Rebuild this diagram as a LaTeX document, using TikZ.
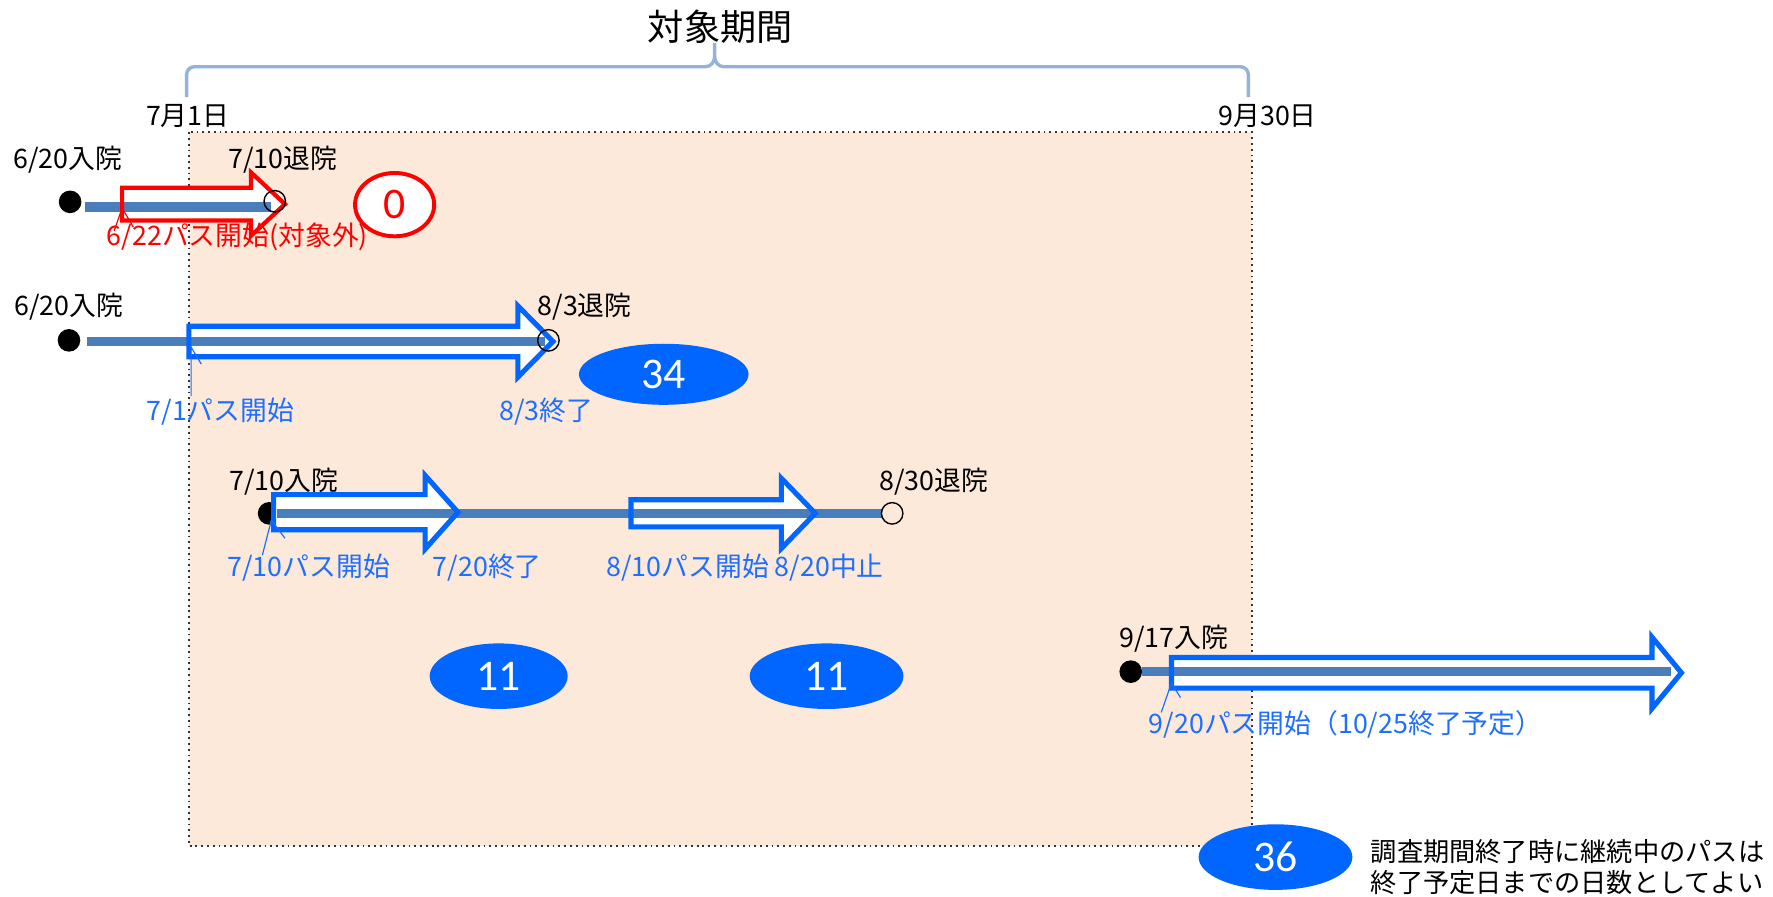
\documentclass[tikz,border=0pt]{standalone}
\usepackage{fontspec}
\usetikzlibrary{shapes.geometric}
\newfontfamily\jp{Noto Sans CJK JP}
\newfontfamily\calib{Carlito}
\definecolor{peach}{HTML}{FDE9D9}
\definecolor{linblue}{HTML}{4A7EBB}
\definecolor{arrblue}{HTML}{0066FF}
\definecolor{lblblue}{HTML}{1E6EFF}
\definecolor{bracec}{HTML}{95B3D7}
\definecolor{redc}{HTML}{FF0000}
% block arrow: x0, xhead, xtip, ycenter, body half height, head half height, options
\newcommand{\blk}[7]{\path[#7] (#1,{#4-#5}) -- (#2,{#4-#5}) -- (#2,{#4-#6}) -- (#3,#4) -- (#2,{#4+#6}) -- (#2,{#4+#5}) -- (#1,{#4+#5}) -- cycle;}
\tikzset{
  lbl/.style={font=\jp\fontsize{13.5}{16}\selectfont, inner sep=0pt},
  dotfill/.style={fill=black},
  opencirc/.style={draw=black, line width=0.7pt},
  pathline/.style={draw=linblue, line width=0.17cm},
  bluearr/.style={draw=arrblue, line width=0.09cm, line join=miter},
  redarr/.style={draw=redc, line width=0.075cm, line join=miter},
  num/.style={ellipse, fill=arrblue, text=white, font=\calib\fontsize{22}{24}\selectfont, inner sep=0pt},
  wedge/.style={line width=0.6pt},
}
\begin{document}
\begin{tikzpicture}[x=0.02cm,y=-0.02cm]
\useasboundingbox (0,0) rectangle (1568,793);
% period box
\path[fill=peach] (167,117) rectangle (1107,748);
\draw[black!80, line width=0.9pt, dotted] (167,117) rectangle (1107,748);
% brace
\draw[bracec, line width=0.06cm, line join=round]
  (165,86) -- (165,66) to[out=90,in=180] (172,59) -- (624,59)
  to[out=0,in=-90] (632,50) -- (632,38)
  (632,50) to[out=-90,in=180] (640,59) -- (1097,59) to[out=0,in=90] (1104,66) -- (1104,86);
\node[font=\jp\fontsize{18.2}{20}\selectfont, inner sep=0pt] (title) at (637,24) {対象期間};
\node[lbl] (d1) at (166,103) {7月1日};
\node[lbl] (d2) at (1121,103) {9月30日};

% ---------- row 1 ----------
\node[lbl] (r1in) at (60,141) {6/20入院};
\node[lbl] (r1out) at (250,141) {7/10退院};
\fill[dotfill] (62,178.5) circle[radius=0.2cm];
\blk{108}{222}{252}{180.5}{14.5}{28}{fill=white}
\draw[pathline] (75,183) -- (240,183);
\blk{108}{222}{252}{180.5}{14.5}{28}{redarr}
\draw[opencirc] (243,178) circle[radius=0.19cm];
\node[lbl, text=redc] (r1p) at (210,209) {6/22パス開始(対象外)};
\draw[redc, wedge] (101,204) -- (108,184) -- (118,201);
\node[ellipse, draw=redc, line width=0.07cm, fill=white, minimum width=1.4cm, minimum height=1.12cm, inner sep=0pt, text=redc, font=\calib\fontsize{22}{24}\selectfont] (n0) at (349,181) {0};

% ---------- row 2 ----------
\node[lbl] (r2in) at (61,271) {6/20入院};
\node[lbl] (r2out) at (517,271) {8/3退院};
\fill[dotfill] (61,301) circle[radius=0.2cm];
\blk{167}{458}{489}{302}{13.5}{31.5}{fill=white}
\draw[pathline] (77,302) -- (482,302);
\blk{167}{458}{489}{302}{13.5}{31.5}{bluearr}
\draw[opencirc] (485,301) circle[radius=0.19cm];
\node[lbl, text=lblblue] (r2p) at (195,364) {7/1パス開始};
\node[lbl, text=lblblue] (r2e) at (483,364) {8/3終了};
\draw[lblblue, wedge] (169,350) -- (169,307) -- (178,322);
\node[num, minimum width=3.0cm, minimum height=1.08cm] (n34) at (587,331) {34};

% ---------- row 3 ----------
\node[lbl] (r3in) at (251,426) {7/10入院};
\node[lbl] (r3out) at (826,426) {8/30退院};
\fill[dotfill] (238,454) circle[radius=0.2cm];
\blk{242}{376}{405}{453}{15.5}{32.5}{fill=white}
\blk{558}{691}{721}{454}{12}{31}{fill=white}
\draw[pathline] (245,454) -- (780,454);
\blk{242}{376}{405}{453}{15.5}{32.5}{bluearr}
\blk{558}{691}{721}{454}{12}{31}{bluearr}
\draw[opencirc] (789,454) circle[radius=0.19cm];
\node[lbl, text=lblblue] (r3p) at (273,502) {7/10パス開始};
\node[lbl, text=lblblue] (r3e) at (431,502) {7/20終了};
\node[lbl, text=lblblue] (r3q) at (659,502) {8/10パス開始 8/20中止};
\draw[lblblue, wedge] (232,491) -- (240,460) -- (252,476);
\node[num, minimum width=2.44cm, minimum height=1.16cm] (n11a) at (441,598) {11};
\node[num, minimum width=2.72cm, minimum height=1.16cm] (n11b) at (731,598) {11};

% ---------- row 4 ----------
\node[lbl] (r4in) at (1038,565) {9/17入院};
\fill[dotfill] (1000,594) circle[radius=0.2cm];
\blk{1036}{1461}{1487}{595}{13.5}{31.5}{fill=white}
\draw[pathline] (1010,594) -- (1478,594);
\blk{1036}{1461}{1487}{595}{13.5}{31.5}{bluearr}
\node[lbl, text=lblblue] (r4p) at (1190,641) {9/20パス開始（10/25終了予定）};
\draw[lblblue, wedge] (1027,630) -- (1036,604) -- (1044,617);
\node[num, minimum width=2.72cm, minimum height=1.16cm] (n36) at (1128,758) {36};
\node[font=\jp\fontsize{13.2}{15.6}\selectfont, inner sep=0pt, anchor=west, align=left] (note) at (1212,767) {調査期間終了時に継続中のパスは\\終了予定日までの日数としてよい};
\end{tikzpicture}
\end{document}
